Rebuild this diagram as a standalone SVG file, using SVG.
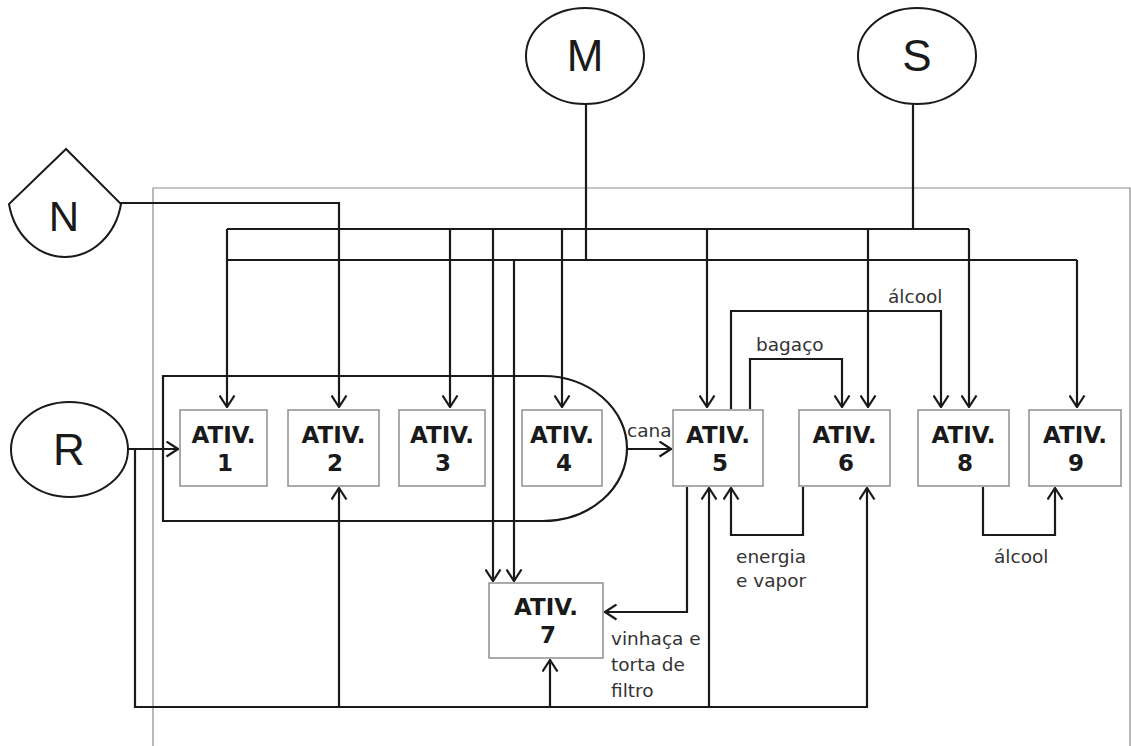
<svg xmlns="http://www.w3.org/2000/svg" width="1131" height="746" viewBox="0 0 1131 746">
<defs>
<style>
.frame{fill:none;stroke:#8a8a8a;stroke-width:1.2}
.ln{fill:none;stroke:#1a1a1a;stroke-width:2.2}
.ar{fill:none;stroke:#1a1a1a;stroke-width:2.2;marker-end:url(#arr)}
.box{fill:#fff;stroke:#8f8f8f;stroke-width:1.5}
.src{fill:#fff;stroke:#1a1a1a;stroke-width:2}
.big{font-family:"Liberation Sans",Arial,sans-serif;font-size:44px;fill:#1a1a1a;text-anchor:middle}
.at{font-family:"DejaVu Sans",Verdana,sans-serif;font-weight:bold;font-size:23px;fill:#1a1a1a;text-anchor:middle}
.lb{font-family:"DejaVu Sans",Verdana,sans-serif;font-size:18.5px;fill:#333}
</style>
<marker id="arr" viewBox="0 0 13 17" markerWidth="13" markerHeight="17" refX="12" refY="8.5" orient="auto" markerUnits="userSpaceOnUse">
<path d="M0.5,1 L12,8.5 L0.5,16" fill="none" stroke="#1a1a1a" stroke-width="2.2"/>
</marker>
</defs>
<rect width="1131" height="746" fill="#fff"/>
<path class="frame" d="M153,746 V188 H1130 V746"/>
<g id="container">
<path class="ln" d="M163,376 H543 A84,72.5 0 0 1 543,521 H163 Z"/>
</g>
<g id="connectors">
<path class="ln" d="M586,104 V260"/>
<path class="ln" d="M913,104 V229"/>
<path class="ln" d="M227,229 H969"/>
<path class="ln" d="M227,260 H1077"/>
<path class="ar" d="M120,203 H339 V407"/>
<path class="ar" d="M227,229 V407"/>
<path class="ar" d="M450,229 V407"/>
<path class="ar" d="M493,229 V581"/>
<path class="ar" d="M514,260 V581"/>
<path class="ar" d="M562,229 V407"/>
<path class="ar" d="M707,229 V407"/>
<path class="ar" d="M868,229 V407"/>
<path class="ar" d="M969,229 V407"/>
<path class="ar" d="M1077,260 V407"/>
<path class="ar" d="M128,449 H178"/>
<path class="ar" d="M135,449 V707 H867 V488"/>
<path class="ar" d="M339,707 V488"/>
<path class="ar" d="M550,707 V660"/>
<path class="ar" d="M709,707 V488"/>
<path class="ar" d="M627,449 H671"/>
<path class="ar" d="M731,409 V311 H941 V407"/>
<path class="ar" d="M750,409 V359 H842 V407"/>
<path class="ar" d="M803,487 V535 H731 V488"/>
<path class="ar" d="M687,487 V612 H605"/>
<path class="ar" d="M983,487 V535 H1055 V488"/>
<text class="lb" x="627" y="437">cana</text>
<text class="lb" x="888" y="303">álcool</text>
<text class="lb" x="756" y="351">bagaço</text>
<text class="lb" x="736" y="563">energia</text>
<text class="lb" x="736" y="587">e vapor</text>
<text class="lb" x="611" y="645">vinhaça e</text>
<text class="lb" x="611" y="671">torta de</text>
<text class="lb" x="611" y="697">filtro</text>
<text class="lb" x="994" y="563">álcool</text>
</g>
<g id="M"><ellipse class="src" cx="585" cy="56" rx="59" ry="48"/><text class="big" x="585" y="71">M</text></g>
<g id="S"><ellipse class="src" cx="917" cy="56" rx="59" ry="48"/><text class="big" x="917" y="71">S</text></g>
<g id="N"><path class="src" d="M66,149 L9,204 A57,65 0 0 0 121,204 Z"/><text class="big" x="64" y="231" style="font-size:42px">N</text></g>
<g id="R"><ellipse class="src" cx="69.5" cy="449.5" rx="58.5" ry="47.5"/><text class="big" x="69" y="465">R</text></g>
<g id="ativ1"><rect class="box" x="180" y="410" width="87" height="76"/><text class="at" x="223.5" y="443">ATIV.</text><text class="at" x="225" y="471">1</text></g>
<g id="ativ2"><rect class="box" x="288" y="410" width="91" height="76"/><text class="at" x="333.5" y="443">ATIV.</text><text class="at" x="335" y="471">2</text></g>
<g id="ativ3"><rect class="box" x="399" y="410" width="86" height="76"/><text class="at" x="442" y="443">ATIV.</text><text class="at" x="443" y="471">3</text></g>
<g id="ativ4"><rect class="box" x="522" y="410" width="80" height="76"/><text class="at" x="562" y="443">ATIV.</text><text class="at" x="564" y="471">4</text></g>
<g id="ativ5"><rect class="box" x="673" y="410" width="90" height="76"/><text class="at" x="718" y="443">ATIV.</text><text class="at" x="720" y="471">5</text></g>
<g id="ativ6"><rect class="box" x="799" y="410" width="91" height="76"/><text class="at" x="844.5" y="443">ATIV.</text><text class="at" x="846" y="471">6</text></g>
<g id="ativ8"><rect class="box" x="918" y="410" width="91" height="76"/><text class="at" x="963.5" y="443">ATIV.</text><text class="at" x="965" y="471">8</text></g>
<g id="ativ9"><rect class="box" x="1029" y="410" width="92" height="76"/><text class="at" x="1075" y="443">ATIV.</text><text class="at" x="1076" y="471">9</text></g>
<g id="ativ7"><rect class="box" x="489" y="583" width="114" height="75"/><text class="at" x="546" y="615">ATIV.</text><text class="at" x="548" y="643">7</text></g>
</svg>
